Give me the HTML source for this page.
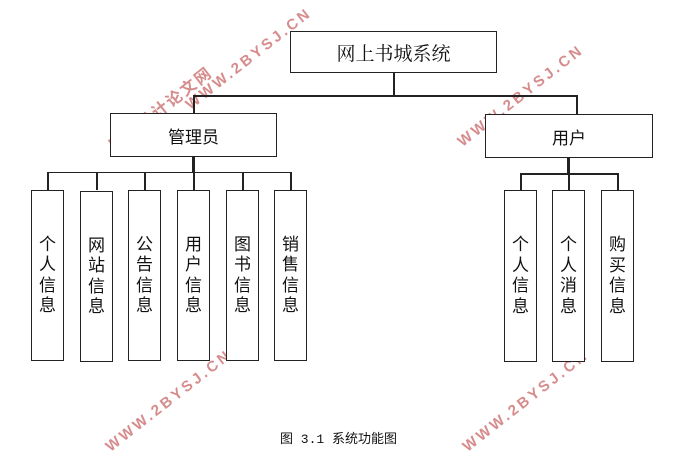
<!DOCTYPE html>
<html><head><meta charset="utf-8"><style>
html,body{margin:0;padding:0;background:#fff;}
body{width:685px;height:455px;position:relative;overflow:hidden;font-family:"Liberation Sans","Noto Sans CJK SC",sans-serif;}
.b{position:absolute;border:1.5px solid #222;box-sizing:border-box;background:#fff;display:flex;align-items:center;justify-content:center;color:#111;}
.v{flex-direction:column;font-size:17px;line-height:20.5px;}
.l{position:absolute;background:#222;}
.wm{position:absolute;color:#d07878;font-weight:bold;font-size:15px;letter-spacing:3px;transform:rotate(-38deg);transform-origin:left center;white-space:nowrap;opacity:.85;line-height:18px;}
</style></head><body>
<div class="wm" style="left:112px;top:140px;font-size:16px;letter-spacing:2px;">毕业设计论文网</div>
<div class="wm" style="left:188px;top:98px;">WWW.2BYSJ.CN</div>
<div class="wm" style="left:460px;top:135px;">WWW.2BYSJ.CN</div>
<div class="wm" style="left:108px;top:440px;">WWW.2BYSJ.CN</div>
<div class="wm" style="left:465px;top:440px;">WWW.2BYSJ.CN</div>

<div class="b" style="left:290px;top:31px;width:207px;height:42px;font-family:'Liberation Serif','Noto Serif CJK SC',serif;font-size:19px;">网上书城系统</div>
<div class="l" style="left:393px;top:73px;width:2px;height:24px;"></div>
<div class="l" style="left:193px;top:95px;width:384px;height:1.5px;"></div>
<div class="l" style="left:193px;top:95px;width:1.5px;height:18px;"></div>
<div class="l" style="left:576px;top:95px;width:1.5px;height:19px;"></div>

<div class="b" style="left:110px;top:113px;width:167px;height:44px;font-size:17px;">管理员</div>
<div class="l" style="left:192px;top:157px;width:2.5px;height:16px;"></div>
<div class="l" style="left:47px;top:171.5px;width:244px;height:1.5px;"></div>
<div class="l" style="left:47px;top:172px;width:1.5px;height:18px;"></div>
<div class="l" style="left:96px;top:172px;width:1.5px;height:18px;"></div>
<div class="l" style="left:144px;top:172px;width:1.5px;height:18px;"></div>
<div class="l" style="left:193px;top:172px;width:1.5px;height:18px;"></div>
<div class="l" style="left:242px;top:172px;width:1.5px;height:18px;"></div>
<div class="l" style="left:290px;top:172px;width:1.5px;height:18px;"></div>

<div class="b v" style="left:31px;top:190px;width:33px;height:171px;"><span>个</span><span>人</span><span>信</span><span>息</span></div>
<div class="b v" style="left:80px;top:191px;width:33px;height:171px;"><span>网</span><span>站</span><span>信</span><span>息</span></div>
<div class="b v" style="left:128px;top:190px;width:33px;height:171px;"><span>公</span><span>告</span><span>信</span><span>息</span></div>
<div class="b v" style="left:177px;top:190px;width:33px;height:171px;"><span>用</span><span>户</span><span>信</span><span>息</span></div>
<div class="b v" style="left:226px;top:190px;width:33px;height:171px;"><span>图</span><span>书</span><span>信</span><span>息</span></div>
<div class="b v" style="left:274px;top:190px;width:33px;height:171px;"><span>销</span><span>售</span><span>信</span><span>息</span></div>

<div class="b" style="left:485px;top:114px;width:168px;height:44px;font-size:17px;">用户</div>
<div class="l" style="left:567px;top:158px;width:2.5px;height:16px;"></div>
<div class="l" style="left:520px;top:173px;width:98px;height:1.5px;"></div>
<div class="l" style="left:520px;top:173px;width:1.5px;height:18px;"></div>
<div class="l" style="left:568px;top:173px;width:1.5px;height:18px;"></div>
<div class="l" style="left:617px;top:173px;width:1.5px;height:18px;"></div>

<div class="b v" style="left:504px;top:190px;width:33px;height:172px;"><span>个</span><span>人</span><span>信</span><span>息</span></div>
<div class="b v" style="left:552px;top:190px;width:33px;height:172px;"><span>个</span><span>人</span><span>消</span><span>息</span></div>
<div class="b v" style="left:601px;top:190px;width:33px;height:172px;"><span>购</span><span>买</span><span>信</span><span>息</span></div>

<div style="position:absolute;left:280px;top:428px;font-size:13px;color:#111;font-family:'Liberation Mono','Noto Sans CJK SC',monospace;white-space:nowrap;">图 3.1 系统功能图</div>
</body></html>
